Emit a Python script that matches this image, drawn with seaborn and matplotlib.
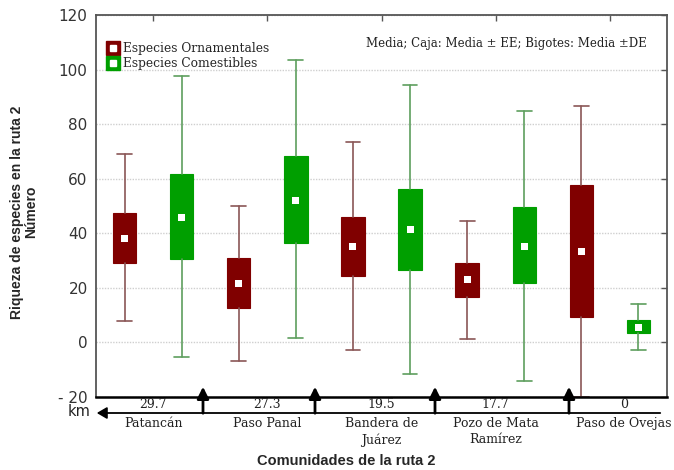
import matplotlib
matplotlib.use("Agg")
import matplotlib.pyplot as plt
from matplotlib.lines import Line2D
from matplotlib.legend_handler import HandlerTuple
import numpy as np
import pandas as pd
import seaborn as sns

# Datos (media, media +- EE, media +- DE)
comunidades = ["Patancán", "Paso Panal", "Bandera de\nJuárez", "Pozo de Mata\nRamírez", "Paso de Ovejas"]
distancia_km = ["29.7", "27.3", "19.5", "17.7", "0"]

orn_media = [38.0, 21.6, 35.2, 23.0, 33.4]
orn_ee_lo = [29.2, 12.8, 24.4, 16.7, 9.5]
orn_ee_hi = [47.5, 30.8, 45.9, 29.0, 57.8]
orn_de_lo = [7.7, -6.8, -2.9, 1.1, -20.0]
orn_de_hi = [68.9, 50.0, 73.4, 44.6, 86.8]

com_media = [45.9, 52.1, 41.4, 35.2, 5.6]
com_ee_lo = [30.7, 36.5, 26.4, 21.6, 3.3]
com_ee_hi = [61.7, 68.2, 56.4, 49.5, 8.2]
com_de_lo = [-5.4, 1.5, -11.7, -14.0, -2.9]
com_de_hi = [97.8, 103.6, 94.5, 84.7, 14.0]

col_orn = "#800000"
col_com = "#009F00"
bigote_orn = "#8A5656"
bigote_com = "#5E9E5E"

sns.set_style("white")
plt.rcParams["font.family"] = ["DejaVu Sans"]

W, H = 674, 470
fig = plt.figure(figsize=(W / 100, H / 100), dpi=100)
ax = fig.add_axes([96 / W, 1 - 397 / H, 571 / W, 382 / H])


def px(x, y):
    return x / W, 1 - y / H


def cajas(media, lo, hi, dlo, dhi, desplaz, color, bigote):
    stats = []
    for i in range(len(media)):
        stats.append(dict(med=media[i], q1=lo[i], q3=hi[i], whislo=dlo[i], whishi=dhi[i], fliers=[]))
    pos = np.arange(len(media)) + desplaz
    ax.bxp(stats, positions=pos, widths=0.205, capwidths=0.13, patch_artist=True,
           showfliers=False, manage_ticks=False,
           boxprops=dict(facecolor=color, edgecolor=color, linewidth=0.8),
           medianprops=dict(linewidth=0),
           whiskerprops=dict(color=bigote, linewidth=1.2),
           capprops=dict(color=bigote, linewidth=1.2))
    return pos


pos_orn = cajas(orn_media, orn_ee_lo, orn_ee_hi, orn_de_lo, orn_de_hi, -0.25, col_orn, bigote_orn)
pos_com = cajas(com_media, com_ee_lo, com_ee_hi, com_de_lo, com_de_hi, 0.25, col_com, bigote_com)

medias = pd.DataFrame({
    "x": np.concatenate([pos_orn, pos_com]),
    "media": orn_media + com_media,
})
sns.scatterplot(data=medias, x="x", y="media", ax=ax, marker="s", s=26,
                color="white", edgecolor="none", zorder=5, legend=False)

ax.set_xlim(-0.5, 4.5)
ax.set_ylim(-20, 120)
ax.set_xticks(range(5))
ax.set_xticklabels([])
ax.set_yticks([-20, 0, 20, 40, 60, 80, 100, 120])
ax.set_yticklabels(["- 20", "0", "20", "40", "60", "80", "100", "120"], fontsize=11, color="#333333")
ax.tick_params(direction="in", top=True, right=True, length=4, width=1, color="#555555", pad=6)
ax.yaxis.grid(True, color="#cfcfcf", linestyle=(0, (1, 1)), linewidth=1)
ax.set_axisbelow(True)
for s in ax.spines.values():
    s.set_color("#555555")
    s.set_linewidth(1.3)
ax.spines["bottom"].set_color("black")
ax.spines["bottom"].set_linewidth(1.8)
ax.set_xlabel("")
ax.set_ylabel("")

serif = "DejaVu Serif"

# leyenda
h_orn = (Line2D([], [], marker="s", markersize=10, color=col_orn, linestyle="none"),
         Line2D([], [], marker="s", markersize=4, color="white", linestyle="none"))
h_com = (Line2D([], [], marker="s", markersize=10, color=col_com, linestyle="none"),
         Line2D([], [], marker="s", markersize=4, color="white", linestyle="none"))
ax.legend([h_orn, h_com], ["Especies Ornamentales", "Especies Comestibles"],
          handler_map={tuple: HandlerTuple(ndivide=1, pad=0)},
          loc="upper left", bbox_to_anchor=(0.006, 0.952), frameon=False,
          handlelength=0.8, handletextpad=0.45, labelspacing=0.2, borderaxespad=0.3,
          prop={"family": serif, "size": 8.8})

ax.text(0.965, 0.925, "Media; Caja: Media ± EE; Bigotes: Media ±DE", transform=ax.transAxes,
        ha="right", va="center", fontsize=8.5, family=serif, color="#222222")

# eje de distancias bajo el grafico
fig.add_artist(matplotlib.patches.FancyArrowPatch(px(663, 413), px(94, 413), transform=fig.transFigure,
               arrowstyle="-|>,head_length=6,head_width=3.5", color="black", lw=1.3))
for xa in [203, 315, 435, 569]:
    fig.add_artist(matplotlib.patches.FancyArrowPatch(px(xa, 416), px(xa, 384), transform=fig.transFigure,
                   arrowstyle="-|>,head_length=7,head_width=3.5", color="black", lw=2))
fig.text(*px(79, 412), "km", ha="center", va="center", fontsize=10.5, color="#222222")

for i in range(len(comunidades)):
    xd = ax.transData.transform((i, 0))[0] / W
    if i == 4:
        xd = 624 / W
    fig.text(xd, 1 - 404 / H, distancia_km[i], ha="center", va="center", family=serif, fontsize=9, color="#222222")
    fig.text(xd, 1 - 417 / H, comunidades[i], ha="center", va="top", family=serif, fontsize=9,
             color="#222222", linespacing=1.3)

fig.text(*px(24, 212), "Riqueza de especies en la ruta 2\nNúmero", rotation=90, ha="center", va="center",
         ma="center", family="Liberation Sans", weight="bold", fontsize=10, linespacing=1.0)
fig.text(*px(346, 461), "Comunidades de la ruta 2", ha="center", va="center",
         family="Liberation Sans", weight="bold", fontsize=10.5)

fig.savefig("out.png", dpi=100)
